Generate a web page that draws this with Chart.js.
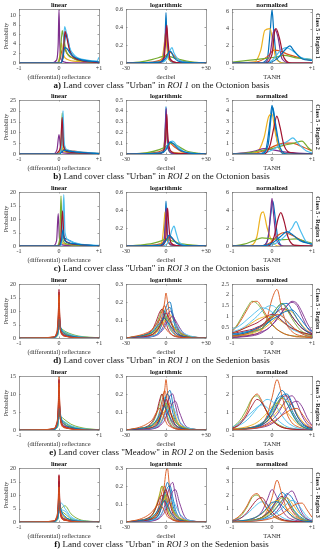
<!DOCTYPE html>
<html>
<head>
<meta charset="utf-8">
<script src="https://cdn.jsdelivr.net/npm/chart.js@4.4.1/dist/chart.umd.min.js"></script>
<style>
  body { margin: 0; width: 323px; height: 550px; background: #fff; position: relative; overflow: hidden; font-family: "Liberation Serif", serif; }
  canvas { position: absolute; }
  .cap { position: absolute; left: 0; width: 323px; text-align: center; font-size: 9px; line-height: 10px; color: #111; white-space: nowrap; }
  .side { position: absolute; writing-mode: vertical-rl; font-size: 6px; font-weight: bold; color: #222; white-space: nowrap; transform: translate(-50%, -50%); z-index: 2; }
</style>
</head>
<body>
<script>
// ---- Octonion basis rows: 8 curves each, [x, y] points ----
const aLin = [
  [[-1,0],[0.05,0],[0.1,1.5],[0.15,5],[0.18,6.3],[0.22,5],[0.3,2],[0.5,0.8],[0.8,0.3],[1,0.2]],
  [[-1,0],[-0.05,0],[0.03,1],[0.08,2.8],[0.13,3],[0.2,2],[0.35,1],[0.6,0.4],[1,0.1]],
  [[-1,0],[-0.05,0],[0.02,1.5],[0.06,4.2],[0.1,2],[0.2,0.8],[0.5,0.3],[1,0]],
  [[-1,0],[-0.2,0],[-0.06,0.6],[-0.02,4],[0,11.2],[0.02,4],[0.06,0.6],[0.2,0.1],[1,0]],
  [[-1,0],[-0.05,0],[0.03,1.5],[0.08,6.8],[0.11,5.5],[0.18,2.5],[0.35,1],[0.7,0.3],[1,0.1]],
  [[-1,0],[0.05,0],[0.1,2],[0.14,7.6],[0.18,6.5],[0.25,3.5],[0.4,1.5],[0.7,0.6],[0.95,0.4],[1,1.2]],
  [[-1,0],[0.05,0],[0.1,1.5],[0.15,6.6],[0.19,5.5],[0.27,2.5],[0.45,0.8],[1,0.1]],
  [[-1,0],[0.05,0],[0.1,1],[0.14,3.2],[0.2,3],[0.3,1.8],[0.5,0.8],[1,0.2]]
];
const aLog = [
  [[-30,0],[-6,0.005],[-2,0.05],[-0.6,0.3],[0,0.56],[0.6,0.3],[2,0.05],[6,0.005],[30,0]],
  [[-30,0],[-10,0.01],[-2,0.05],[1,0.1],[3,0.12],[6,0.08],[12,0.02],[30,0]],
  [[-30,0],[-8,0.005],[-3,0.05],[-1,0.25],[-0.3,0.34],[0.5,0.2],[2,0.04],[8,0.005],[30,0]],
  [[-30,0],[-6,0.005],[-2,0.05],[-0.5,0.3],[0.3,0.41],[1,0.25],[3,0.04],[8,0.005],[30,0]],
  [[-30,0],[-20,0.01],[-10,0.04],[-3,0.07],[0,0.08],[3,0.07],[10,0.04],[20,0.01],[30,0]],
  [[-30,0],[-3,0.01],[1,0.06],[3,0.14],[4.5,0.17],[6,0.11],[10,0.03],[18,0.005],[30,0]],
  [[-30,0],[-5,0.005],[-1.5,0.05],[0,0.3],[0.6,0.42],[1.3,0.28],[3,0.05],[8,0.005],[30,0]],
  [[-30,0],[-5,0.01],[0,0.06],[2,0.12],[3.5,0.13],[6,0.06],[12,0.01],[30,0]]
];
const aNorm = [
  [[-1,0],[-0.3,0],[-0.12,0.5],[-0.04,4],[0,6.2],[0.04,4],[0.12,0.5],[0.3,0],[1,0]],
  [[-1,0],[-0.4,0.1],[-0.1,0.8],[0.05,1.5],[0.2,1.4],[0.4,1],[0.7,0.6],[1,0.3]],
  [[-1,0],[-0.45,0.1],[-0.28,1.5],[-0.18,3.8],[-0.05,4],[0.02,2.5],[0.1,0.5],[0.3,0],[1,0]],
  [[-1,0],[-0.25,0],[-0.05,1],[0.03,3.5],[0.08,3.9],[0.15,3],[0.25,0.5],[0.45,0],[1,0]],
  [[-1,0.1],[-0.6,0.3],[-0.2,0.5],[0.1,0.7],[0.3,0.9],[0.6,0.6],[0.8,0.5],[1,0.4]],
  [[-1,0],[-0.3,0],[0,0.3],[0.2,1.4],[0.35,1.8],[0.5,1.5],[0.7,0.7],[1,0.4]],
  [[-1,0],[-0.2,0],[0,1],[0.06,3.5],[0.1,4],[0.18,3],[0.3,0.6],[0.5,0],[1,0]],
  [[-1,0],[-0.1,0],[0.15,0.6],[0.3,1.4],[0.45,2],[0.55,1.4],[0.75,0.5],[1,0.3]]
];
const bLin = [
  [[-1,0],[0,0],[0.06,3],[0.09,16],[0.12,5],[0.2,1.5],[0.5,0.8],[1,0.2]],
  [[-1,0],[-0.1,0],[0,0.5],[0.1,2],[0.3,1.5],[0.6,0.8],[1,0.3]],
  [[-1,0],[-0.05,0],[0.02,1],[0.06,5],[0.1,1.5],[0.3,0.5],[1,0]],
  [[-1,0],[-0.15,0],[-0.05,2],[0,9],[0.04,3],[0.1,0.5],[0.4,0.2],[1,0]],
  [[-1,0],[0,0],[0.05,3],[0.08,19],[0.11,4],[0.2,1],[0.5,0.5],[1,0.1]],
  [[-1,0],[0,0],[0.07,4],[0.1,20],[0.13,5],[0.2,2],[0.5,1],[1,0.3]],
  [[-1,0],[-0.1,0],[-0.02,1],[0.04,4],[0.08,17],[0.11,4],[0.2,1.2],[0.6,0.4],[1,0.1]],
  [[-1,0],[0,0],[0.08,1],[0.12,1.8],[0.3,1.2],[0.6,0.6],[1,0.2]]
];
const bLog = [
  [[-30,0],[-5,0.005],[-1.5,0.05],[-0.5,0.25],[0,0.44],[0.5,0.25],[1.5,0.05],[5,0.005],[30,0]],
  [[-30,0],[-10,0.01],[-2,0.04],[1,0.08],[3,0.1],[6,0.07],[12,0.02],[30,0]],
  [[-30,0],[-6,0.005],[-2,0.04],[-0.6,0.2],[0,0.28],[1,0.12],[3,0.02],[30,0]],
  [[-30,0],[-5,0.005],[-1.5,0.05],[-0.3,0.3],[0.2,0.42],[0.8,0.2],[2,0.04],[6,0.005],[30,0]],
  [[-30,0],[-15,0.01],[-5,0.04],[0,0.07],[4,0.1],[8,0.08],[15,0.03],[25,0.005],[30,0]],
  [[-30,0],[-8,0.005],[-1,0.04],[2,0.1],[5,0.12],[8,0.08],[14,0.02],[30,0]],
  [[-30,0],[-5,0.005],[-1,0.05],[0.2,0.25],[0.6,0.37],[1.2,0.2],[3,0.04],[8,0.005],[30,0]],
  [[-30,0],[-3,0.01],[0,0.04],[3,0.11],[5,0.1],[10,0.04],[20,0.005],[30,0]]
];
const bNorm = [
  [[-1,0],[-0.35,0],[-0.15,0.5],[-0.05,3],[0,4.5],[0.05,3.5],[0.15,0.8],[0.35,0],[1,0]],
  [[-1,0],[-0.5,0.05],[-0.2,0.3],[0.1,0.8],[0.3,1],[0.5,1],[0.8,0.6],[1,0.3]],
  [[-1,0],[-0.4,0.1],[-0.2,1.5],[-0.08,3.5],[0,3.7],[0.08,2],[0.2,0.4],[0.4,0],[1,0]],
  [[-1,0],[-0.7,0.1],[-0.4,0.3],[-0.2,0.5],[0,0.4],[0.3,0.2],[1,0]],
  [[-1,0],[-0.6,0.1],[-0.3,0.3],[0,0.5],[0.3,0.8],[0.55,1],[0.75,1.2],[0.9,0.6],[1,0.3]],
  [[-1,0],[-0.4,0],[-0.1,0.2],[0.2,0.8],[0.4,1.2],[0.52,1.5],[0.65,1],[0.85,0.3],[1,0.1]],
  [[-1,0],[-0.2,0],[-0.05,0.8],[0.05,2.5],[0.12,3.5],[0.2,2.5],[0.3,0.8],[0.5,0.1],[1,0]],
  [[-1,0],[-0.3,0],[-0.1,0.8],[-0.02,3.5],[0.02,4.3],[0.08,3],[0.2,0.6],[0.4,0],[1,0]]
];
const cLin = [
  [[-1,0],[0,0],[0.05,1.5],[0.1,3],[0.2,2.5],[0.4,1],[0.7,0.3],[1,0.1]],
  [[-1,0],[-0.05,0],[0.05,1.5],[0.1,4],[0.15,2],[0.3,0.8],[1,0.1]],
  [[-1,0],[-0.05,0],[0.02,1],[0.05,3],[0.09,1],[0.3,0.3],[1,0]],
  [[-1,0],[-0.15,0],[-0.06,2],[-0.02,12],[0.01,3],[0.06,0.5],[0.3,0.1],[1,0]],
  [[-1,0],[-0.05,0],[0.02,3],[0.05,18.5],[0.08,4],[0.15,1],[0.4,0.3],[1,0]],
  [[-1,0],[0.02,0],[0.08,3],[0.12,19],[0.15,5],[0.25,2],[0.5,0.8],[1,0.2]],
  [[-1,0],[-0.02,0],[0.04,2],[0.09,13],[0.12,4],[0.2,1.5],[0.5,0.5],[1,0.1]],
  [[-1,0],[0,0],[0.06,2],[0.1,6],[0.14,2],[0.3,1],[0.6,0.4],[1,0.1]]
];
const cLog = [
  [[-30,0],[-5,0.005],[-1.5,0.05],[-0.5,0.3],[0,0.5],[0.5,0.3],[1.5,0.05],[5,0.005],[30,0]],
  [[-30,0],[-10,0.01],[-2,0.04],[1,0.08],[3,0.1],[6,0.06],[12,0.01],[30,0]],
  [[-30,0],[-7,0.005],[-3,0.05],[-1.5,0.25],[-0.7,0.38],[0,0.25],[1.5,0.04],[6,0.005],[30,0]],
  [[-30,0],[-5,0.005],[-1.5,0.05],[-0.3,0.3],[0.2,0.42],[0.8,0.2],[2,0.04],[6,0.005],[30,0]],
  [[-30,0],[-20,0.01],[-10,0.03],[-3,0.06],[0,0.08],[4,0.06],[10,0.03],[20,0.01],[30,0]],
  [[-30,0],[-2,0.005],[2,0.05],[4.5,0.18],[6,0.22],[7.5,0.15],[10,0.04],[16,0.005],[30,0]],
  [[-30,0],[-4,0.005],[-0.5,0.05],[0.6,0.3],[1.2,0.42],[2,0.25],[3.5,0.04],[8,0.005],[30,0]],
  [[-30,0],[-4,0.01],[0,0.06],[2.5,0.12],[4,0.1],[8,0.03],[15,0.005],[30,0]]
];
const cNorm = [
  [[-1,0],[-0.3,0],[-0.12,0.5],[-0.03,3.5],[0.02,5],[0.07,3.5],[0.15,0.8],[0.3,0],[1,0]],
  [[-1,0],[-0.3,0],[0,0.5],[0.15,1.2],[0.3,1.5],[0.5,1.2],[0.75,0.6],[1,0.2]],
  [[-1,0],[-0.55,0.05],[-0.38,1],[-0.28,3.5],[-0.22,3.8],[-0.12,2],[0,0.5],[0.2,0],[1,0]],
  [[-1,0],[-0.25,0],[-0.1,0.8],[-0.03,4],[0,5.3],[0.04,3.5],[0.12,0.6],[0.3,0],[1,0]],
  [[-1,0],[-0.7,0.2],[-0.45,0.6],[-0.25,0.9],[0,0.8],[0.3,0.7],[0.6,0.8],[0.85,0.5],[1,0.3]],
  [[-1,0],[-0.2,0],[0.1,0.3],[0.35,1.2],[0.5,2],[0.6,2.7],[0.7,1.8],[0.85,0.5],[1,0.2]],
  [[-1,0],[-0.1,0],[0.05,1],[0.15,3],[0.22,3.7],[0.3,2.8],[0.4,1],[0.55,0.1],[1,0]],
  [[-1,0],[-0.3,0],[0,0.3],[0.2,1],[0.38,1.6],[0.5,1.3],[0.7,0.6],[1,0.2]]
];

// ---- Sedenion basis rows: 16 curves each on shared x grids ----
const xSedLin = [-1,-0.4,-0.15,-0.06,-0.02,0,0.02,0.06,0.15,0.3,0.5,0.75,1];
const xSedLog = [-30,-20,-14,-10,-7,-5,-3,-1,0,1,3,5,7,10,14,20,30];
const xSedNorm = [-1,-0.875,-0.75,-0.625,-0.5,-0.375,-0.25,-0.125,0,0.125,0.25,0.375,0.5,0.625,0.75,0.875,1];

const dLin = [
  [0,0,0.2,1,5,14,6,2,1,0.5,0.2,0.1,0],
  [0,0,0.3,1.5,6,17,7,2,0.8,0.4,0.2,0.1,0],
  [0,0,0.2,1,4,10,5,2.5,1.5,0.8,0.3,0.1,0],
  [0,0,0.2,1.2,5,12,5,2,1,0.5,0.2,0.1,0],
  [0,0,0.1,0.5,2,5,4,3.5,2.5,1.5,0.7,0.3,0.1],
  [0,0,0.1,0.6,2.5,6,4.5,3,2,1,0.4,0.1,0],
  [0,0,0.3,1.5,7,18,7,2,0.8,0.4,0.2,0.1,0],
  [0,0,0.2,1,4,9,6,3,1.5,0.8,0.3,0.1,0],
  [0,0.1,0.4,2,8,16,6,1.5,0.6,0.3,0.1,0,0],
  [0,0,0.2,1,3,8,4,2.5,1.5,0.6,0.2,0.1,0],
  [0,0,0.2,1,4,11,6,2.5,1,0.4,0.2,0,0],
  [0,0,0.1,0.5,2,6,4,3,2,1,0.5,0.2,0.1],
  [0,0,0.1,0.5,2,4,3.5,3,2.2,1.2,0.5,0.2,0],
  [0,0,0.2,1.2,5,13,5,2,0.8,0.4,0.2,0,0],
  [0,0,0.1,0.8,3,7,5,3,1.5,0.7,0.3,0.1,0],
  [0,0.1,0.3,1.5,6,15,6,2,0.8,0.3,0.1,0,0]
];
const dLog = [
  [0,0.005,0.01,0.02,0.04,0.06,0.1,0.15,0.17,0.19,0.2,0.14,0.08,0.03,0.01,0.003,0],
  [0,0.005,0.01,0.02,0.04,0.07,0.12,0.2,0.25,0.21,0.12,0.07,0.04,0.02,0.01,0.005,0],
  [0,0.005,0.01,0.015,0.03,0.05,0.07,0.1,0.11,0.12,0.13,0.11,0.08,0.04,0.015,0.005,0],
  [0,0.003,0.006,0.01,0.02,0.03,0.05,0.08,0.1,0.12,0.15,0.13,0.09,0.04,0.015,0.005,0],
  [0,0.01,0.02,0.04,0.08,0.12,0.16,0.14,0.12,0.09,0.05,0.03,0.015,0.008,0.004,0.002,0],
  [0,0.01,0.02,0.04,0.07,0.1,0.13,0.14,0.13,0.1,0.06,0.03,0.015,0.008,0.004,0.002,0],
  [0,0.01,0.025,0.05,0.1,0.14,0.16,0.12,0.09,0.06,0.03,0.015,0.008,0.004,0.002,0.001,0],
  [0,0.003,0.006,0.01,0.02,0.04,0.08,0.13,0.15,0.16,0.17,0.12,0.06,0.02,0.008,0.003,0],
  [0,0.008,0.015,0.03,0.06,0.1,0.15,0.18,0.16,0.13,0.07,0.04,0.02,0.01,0.005,0.002,0],
  [0,0.01,0.02,0.03,0.05,0.07,0.08,0.09,0.1,0.1,0.09,0.07,0.05,0.03,0.015,0.005,0],
  [0,0.002,0.004,0.008,0.015,0.025,0.04,0.06,0.08,0.09,0.11,0.12,0.1,0.06,0.02,0.006,0],
  [0,0.01,0.02,0.03,0.05,0.07,0.09,0.11,0.12,0.11,0.09,0.07,0.05,0.03,0.015,0.005,0],
  [0,0.003,0.006,0.01,0.02,0.03,0.045,0.06,0.07,0.075,0.085,0.09,0.08,0.05,0.025,0.008,0],
  [0,0.005,0.01,0.02,0.04,0.06,0.09,0.13,0.14,0.13,0.1,0.06,0.03,0.015,0.006,0.002,0],
  [0,0.01,0.02,0.035,0.06,0.08,0.1,0.11,0.1,0.09,0.07,0.05,0.03,0.015,0.006,0.002,0],
  [0,0.015,0.03,0.05,0.08,0.1,0.09,0.06,0.05,0.04,0.025,0.015,0.01,0.005,0.003,0.001,0]
];
const dNorm = [
  [0.1,0.15,0.2,0.25,0.35,0.45,0.6,0.8,1.1,1.4,1.6,1.4,1.0,0.7,0.45,0.3,0.2],
  [0.05,0.05,0.1,0.1,0.15,0.2,0.4,0.9,1.8,2.25,1.3,0.6,0.3,0.15,0.1,0.05,0.05],
  [0.05,0.08,0.1,0.15,0.2,0.3,0.4,0.55,0.75,0.95,1.15,1.3,1.2,0.9,0.6,0.35,0.2],
  [0.05,0.05,0.08,0.1,0.15,0.2,0.3,0.4,0.6,0.85,1.2,1.5,1.65,1.5,1.0,0.5,0.2],
  [0.35,0.6,1.0,1.4,1.7,1.6,1.3,0.9,0.6,0.4,0.25,0.15,0.1,0.08,0.05,0.05,0.05],
  [0.3,0.35,0.45,0.6,0.8,1.0,1.25,1.45,1.5,1.35,1.05,0.75,0.5,0.35,0.25,0.15,0.1],
  [0.2,0.25,0.3,0.35,0.4,0.5,0.6,0.8,1.0,1.2,1.35,1.3,1.0,0.7,0.45,0.3,0.2],
  [0.15,0.15,0.2,0.25,0.3,0.35,0.45,0.65,0.9,1.25,1.55,1.6,1.3,0.9,0.55,0.3,0.15],
  [0.3,0.55,0.9,1.3,1.65,1.7,1.4,1.0,0.65,0.4,0.25,0.15,0.1,0.05,0.05,0.03,0.02],
  [0.2,0.3,0.4,0.55,0.7,0.85,0.95,1.0,1.0,0.9,0.75,0.6,0.45,0.35,0.25,0.15,0.1],
  [0.02,0.03,0.05,0.07,0.1,0.15,0.25,0.4,0.6,0.9,1.2,1.5,1.7,1.6,1.2,0.7,0.3],
  [0.1,0.1,0.15,0.2,0.25,0.35,0.45,0.7,1.0,1.4,1.6,1.3,0.9,0.55,0.3,0.2,0.1],
  [0.4,0.5,0.65,0.85,1.05,1.25,1.4,1.35,1.2,1.0,0.8,0.6,0.4,0.3,0.2,0.1,0.05],
  [0.25,0.3,0.4,0.5,0.6,0.7,0.85,1.0,1.1,1.0,0.8,0.6,0.45,0.35,0.25,0.2,0.15],
  [0.2,0.2,0.25,0.3,0.35,0.45,0.55,0.7,0.85,1.0,1.15,1.25,1.3,1.1,0.8,0.5,0.3],
  [0.1,0.12,0.15,0.2,0.3,0.4,0.55,0.75,0.95,1.1,1.0,0.8,0.55,0.35,0.2,0.1,0.05]
];
const eLin = [
  [0,0,0.2,1,4,12,5,2,1,0.5,0.2,0.1,0],
  [0,0.1,0.4,2,6,15,6,1.5,0.6,0.3,0.1,0,0],
  [0,0,0.2,1,3,8,4,2.5,1.5,0.8,0.3,0.1,0],
  [0,0,0.2,1,4,10,5,2,1,0.5,0.2,0.1,0],
  [0,0,0.1,0.5,1.5,4,3.5,3.5,2.8,1.6,0.8,0.3,0.1],
  [0,0,0.1,0.6,2,5,4.5,3,2,1,0.4,0.1,0],
  [0,0,0.3,1.5,5,14,6,2,0.8,0.4,0.2,0.1,0],
  [0,0,0.2,1,3,8,6,3,1.5,0.8,0.3,0.1,0],
  [0,0.1,0.3,1.5,5,13,6,1.5,0.6,0.3,0.1,0,0],
  [0,0,0.2,1,3,7,4,2.5,1.5,0.6,0.2,0.1,0],
  [0,0,0.2,1,4,9,5,2.5,1,0.4,0.2,0,0],
  [0,0,0.1,0.5,2,5,4,3,2,1,0.5,0.2,0.1],
  [0,0,0.1,0.5,2,3.5,3.5,3,2.2,1.2,0.5,0.2,0],
  [0,0,0.2,1.2,5,11,5,2,0.8,0.4,0.2,0,0],
  [0,0,0.1,0.8,3,6,5,3,1.5,0.7,0.3,0.1,0],
  [0,0.1,0.3,1.5,5,12,6,2,0.8,0.3,0.1,0,0]
];
const eLog = [
  [0,0.003,0.006,0.012,0.025,0.045,0.09,0.15,0.18,0.2,0.22,0.15,0.07,0.025,0.008,0.003,0],
  [0,0.004,0.008,0.015,0.03,0.06,0.12,0.22,0.28,0.22,0.11,0.06,0.03,0.015,0.007,0.003,0],
  [0,0.003,0.006,0.01,0.02,0.035,0.06,0.1,0.12,0.13,0.15,0.13,0.08,0.03,0.01,0.004,0],
  [0,0.002,0.004,0.008,0.015,0.025,0.05,0.09,0.12,0.15,0.19,0.2,0.14,0.05,0.015,0.004,0],
  [0,0.008,0.02,0.04,0.09,0.14,0.2,0.16,0.12,0.08,0.04,0.02,0.01,0.005,0.002,0.001,0],
  [0,0.008,0.015,0.03,0.06,0.1,0.16,0.18,0.16,0.12,0.06,0.03,0.015,0.006,0.003,0.001,0],
  [0,0.01,0.02,0.05,0.1,0.16,0.2,0.14,0.1,0.06,0.03,0.015,0.007,0.003,0.001,0.001,0],
  [0,0.003,0.006,0.012,0.025,0.05,0.1,0.16,0.19,0.2,0.17,0.1,0.05,0.02,0.007,0.002,0],
  [0,0.006,0.012,0.025,0.05,0.09,0.16,0.22,0.2,0.15,0.07,0.035,0.017,0.008,0.004,0.001,0],
  [0,0.008,0.015,0.025,0.045,0.065,0.085,0.105,0.115,0.12,0.1,0.075,0.05,0.03,0.013,0.004,0],
  [0,0.002,0.003,0.006,0.012,0.02,0.035,0.055,0.075,0.09,0.12,0.15,0.16,0.1,0.03,0.006,0],
  [0,0.008,0.015,0.025,0.045,0.07,0.1,0.135,0.15,0.135,0.1,0.07,0.045,0.025,0.012,0.004,0],
  [0,0.003,0.006,0.01,0.02,0.03,0.05,0.08,0.095,0.11,0.125,0.13,0.1,0.05,0.02,0.006,0],
  [0,0.004,0.008,0.016,0.035,0.06,0.1,0.15,0.17,0.16,0.11,0.06,0.03,0.012,0.005,0.002,0],
  [0,0.008,0.016,0.03,0.055,0.08,0.11,0.13,0.12,0.1,0.07,0.045,0.025,0.012,0.005,0.002,0],
  [0,0.015,0.035,0.06,0.1,0.12,0.1,0.06,0.045,0.03,0.02,0.012,0.007,0.004,0.002,0.001,0]
];
const eNorm = [
  [0.05,0.05,0.08,0.1,0.15,0.25,0.4,0.7,1.2,1.8,2.2,1.8,1.1,0.6,0.3,0.15,0.08],
  [0.03,0.03,0.05,0.08,0.12,0.2,0.35,0.8,1.8,2.8,1.9,0.9,0.4,0.2,0.1,0.05,0.03],
  [0.03,0.05,0.08,0.1,0.15,0.2,0.3,0.45,0.7,1.0,1.35,1.6,1.4,0.9,0.5,0.25,0.1],
  [0.02,0.03,0.05,0.07,0.1,0.15,0.22,0.35,0.55,0.85,1.3,1.75,1.9,1.5,0.8,0.35,0.12],
  [0.15,0.35,0.7,1.2,1.75,1.9,1.5,1.0,0.6,0.35,0.2,0.1,0.06,0.04,0.03,0.02,0.01],
  [0.1,0.2,0.35,0.55,0.85,1.2,1.5,1.7,1.6,1.25,0.8,0.45,0.25,0.12,0.06,0.03,0.01],
  [0.05,0.06,0.08,0.1,0.15,0.2,0.3,0.5,0.8,1.3,1.8,1.9,1.4,0.8,0.4,0.2,0.08],
  [0.03,0.04,0.06,0.08,0.12,0.18,0.28,0.5,0.85,1.4,1.9,2.0,1.5,0.8,0.4,0.15,0.05],
  [0.1,0.25,0.55,1.0,1.7,2.0,1.6,1.0,0.55,0.3,0.15,0.08,0.05,0.03,0.02,0.01,0.01],
  [0.05,0.08,0.12,0.18,0.28,0.42,0.65,0.95,1.3,1.5,1.35,1.0,0.65,0.35,0.18,0.08,0.03],
  [0.02,0.02,0.03,0.05,0.07,0.1,0.15,0.22,0.35,0.55,0.85,1.2,1.5,1.6,1.3,0.7,0.25],
  [0.03,0.04,0.06,0.08,0.12,0.2,0.35,0.6,1.0,1.5,1.8,1.5,0.95,0.5,0.22,0.08,0.03],
  [0.15,0.3,0.5,0.75,1.0,1.25,1.4,1.25,0.95,0.6,0.35,0.18,0.1,0.05,0.03,0.02,0.01],
  [0.08,0.2,0.45,0.85,1.35,1.7,1.5,1.0,0.55,0.3,0.15,0.08,0.05,0.03,0.02,0.01,0.01],
  [0.02,0.03,0.05,0.08,0.12,0.2,0.35,0.65,1.1,1.7,1.9,1.5,0.9,0.45,0.2,0.08,0.03],
  [0.02,0.03,0.04,0.06,0.08,0.12,0.18,0.28,0.42,0.6,0.82,1.0,1.15,1.2,0.9,0.5,0.2]
];
const fLin = [
  [0,0,0.2,1,4,12,6,2.5,1.2,0.5,0.2,0.1,0],
  [0,0.1,0.4,2,7,17,7,1.5,0.6,0.3,0.1,0,0],
  [0,0,0.2,1,3,9,5,3,1.5,0.8,0.3,0.1,0],
  [0,0,0.2,1,4,11,5,2,1,0.5,0.2,0.1,0],
  [0,0,0.1,0.5,1.5,4,4,5,6,3,1,0.3,0.1],
  [0,0,0.1,0.5,2,5,6,7,5,2,0.6,0.2,0],
  [0,0,0.3,1.5,6,17.5,7,2,0.8,0.4,0.2,0.1,0],
  [0,0,0.2,1,3,9,7,4,2,0.8,0.3,0.1,0],
  [0,0.1,0.3,1.5,5,14,6,1.5,0.6,0.3,0.1,0,0],
  [0,0,0.2,1,3,8,5,3,1.5,0.6,0.2,0.1,0],
  [0,0,0.2,1,4,10,6,2.5,1,0.4,0.2,0,0],
  [0,0,0.1,0.5,2,5,4.5,4,3,1.2,0.5,0.2,0.1],
  [0,0,0.1,0.5,2,4,4,4.5,4,1.5,0.5,0.2,0],
  [0,0,0.2,1.2,5,15,6,2,0.8,0.4,0.2,0,0],
  [0,0,0.1,0.8,3,8,6,4,2,0.7,0.3,0.1,0],
  [0,0.1,0.3,1.5,6,13,6,2,0.8,0.3,0.1,0,0]
];
const fLog = [
  [0,0.003,0.006,0.012,0.025,0.045,0.09,0.15,0.17,0.19,0.2,0.14,0.07,0.025,0.008,0.003,0],
  [0,0.004,0.008,0.015,0.03,0.05,0.1,0.22,0.28,0.3,0.16,0.07,0.035,0.015,0.006,0.002,0],
  [0,0.01,0.02,0.045,0.1,0.15,0.2,0.15,0.11,0.07,0.035,0.018,0.009,0.004,0.002,0.001,0],
  [0,0.002,0.004,0.008,0.015,0.025,0.05,0.09,0.12,0.15,0.2,0.22,0.15,0.05,0.015,0.004,0],
  [0,0.008,0.02,0.04,0.09,0.14,0.2,0.16,0.12,0.08,0.04,0.02,0.01,0.005,0.002,0.001,0],
  [0,0.008,0.015,0.03,0.055,0.09,0.13,0.16,0.15,0.12,0.06,0.03,0.015,0.006,0.003,0.001,0],
  [0,0.01,0.02,0.045,0.09,0.13,0.15,0.11,0.08,0.05,0.025,0.012,0.006,0.003,0.001,0.001,0],
  [0,0.003,0.006,0.012,0.025,0.05,0.1,0.17,0.2,0.22,0.18,0.1,0.05,0.02,0.007,0.002,0],
  [0,0.006,0.012,0.025,0.05,0.1,0.17,0.2,0.17,0.12,0.06,0.03,0.015,0.007,0.003,0.001,0],
  [0,0.008,0.015,0.025,0.045,0.07,0.1,0.13,0.14,0.13,0.1,0.07,0.045,0.025,0.011,0.004,0],
  [0,0.002,0.003,0.006,0.012,0.02,0.035,0.055,0.075,0.09,0.13,0.17,0.18,0.11,0.03,0.006,0],
  [0,0.006,0.012,0.022,0.04,0.065,0.1,0.14,0.15,0.15,0.11,0.07,0.04,0.02,0.009,0.003,0],
  [0,0.003,0.006,0.01,0.02,0.03,0.05,0.075,0.09,0.1,0.115,0.12,0.095,0.05,0.02,0.006,0],
  [0,0.005,0.01,0.02,0.04,0.07,0.12,0.17,0.18,0.16,0.1,0.05,0.025,0.01,0.004,0.001,0],
  [0,0.008,0.016,0.03,0.055,0.08,0.1,0.12,0.11,0.09,0.06,0.04,0.022,0.01,0.004,0.002,0],
  [0,0.015,0.035,0.06,0.09,0.1,0.085,0.06,0.045,0.03,0.02,0.012,0.007,0.004,0.002,0.001,0]
];
const fNorm = [
  [0.03,0.04,0.06,0.08,0.12,0.2,0.35,0.65,1.1,1.7,2.2,1.8,1.1,0.6,0.3,0.12,0.05],
  [0.02,0.03,0.04,0.06,0.1,0.18,0.35,0.8,1.8,3.1,2.0,0.9,0.4,0.2,0.08,0.04,0.02],
  [0.03,0.04,0.06,0.08,0.12,0.18,0.28,0.45,0.75,1.15,1.6,1.8,1.4,0.85,0.45,0.2,0.08],
  [0.03,0.05,0.08,0.12,0.2,0.4,0.8,1.6,2.4,1.8,0.9,0.4,0.2,0.1,0.05,0.03,0.02],
  [0.1,0.25,0.55,1.1,1.8,2.0,1.6,1.0,0.55,0.3,0.15,0.08,0.05,0.03,0.02,0.01,0.01],
  [0.1,0.2,0.35,0.6,0.95,1.3,1.5,1.35,1.0,0.65,0.35,0.18,0.09,0.04,0.02,0.01,0.01],
  [0.03,0.04,0.06,0.08,0.12,0.2,0.35,0.6,1.0,1.6,1.9,1.5,0.85,0.4,0.18,0.08,0.03],
  [0.02,0.03,0.04,0.06,0.09,0.14,0.22,0.38,0.65,1.1,1.6,2.1,1.8,1.1,0.5,0.2,0.06],
  [0.1,0.3,0.65,1.2,1.9,2.1,1.6,0.95,0.5,0.25,0.12,0.06,0.04,0.02,0.01,0.01,0.01],
  [0.04,0.06,0.1,0.15,0.25,0.4,0.62,0.95,1.35,1.6,1.4,1.0,0.6,0.3,0.14,0.06,0.02],
  [0.02,0.02,0.03,0.05,0.07,0.1,0.16,0.26,0.45,0.8,1.35,2.0,2.3,1.6,0.7,0.25,0.08],
  [0.03,0.04,0.06,0.08,0.12,0.2,0.33,0.55,0.9,1.4,1.8,1.55,1.0,0.5,0.22,0.08,0.03],
  [0.02,0.03,0.04,0.06,0.08,0.12,0.18,0.28,0.45,0.7,1.0,1.35,1.6,1.4,0.9,0.4,0.15],
  [0.06,0.15,0.35,0.7,1.2,1.65,1.8,1.3,0.75,0.4,0.2,0.1,0.05,0.03,0.02,0.01,0.01],
  [0.05,0.07,0.1,0.15,0.25,0.4,0.65,1.05,1.45,1.5,1.2,0.8,0.45,0.22,0.1,0.04,0.02],
  [0.01,0.02,0.03,0.04,0.06,0.08,0.12,0.18,0.28,0.42,0.62,0.88,1.15,1.35,1.4,0.9,0.35]
];

// axis limits and tick steps per row: [linear, logarithmic, normalized]
const yMax = [[11.3,0.6,6.3],[25,0.5,5],[20,0.6,6],[20,0.3,2.5],[15,0.3,3],[20,0.3,4]];
const yStep = [[2,0.2,2],[5,0.1,1],[5,0.2,2],[5,0.1,0.5],[5,0.1,1],[5,0.1,1]];
const xRange = [1, 30, 1];

const panelTitles = ["linear", "logarithmic", "normalized"];
const xTitles = ["(differential) reflectance", "decibel", "TANH"];
const yTitle = "Probability";
const letters = ["a)", "b)", "c)", "d)", "e)", "f)"];
const classes = ["Urban", "Urban", "Urban", "Urban", "Meadow", "Urban"];
const rois = ["ROI 1", "ROI 2", "ROI 3", "ROI 1", "ROI 2", "ROI 3"];
const bases = ["Octonion", "Octonion", "Octonion", "Sedenion", "Sedenion", "Sedenion"];
const regions = ["Class 5 - Region 1", "Class 5 - Region 2", "Class 5 - Region 3",
                 "Class 5 - Region 1", "Class 5 - Region 2", "Class 5 - Region 3"];

const octo = [[aLin, aLog, aNorm], [bLin, bLog, bNorm], [cLin, cLog, cNorm]];
const sede = [[dLin, dLog, dNorm], [eLin, eLog, eNorm], [fLin, fLog, fNorm]];
const sedGrids = [xSedLin, xSedLog, xSedNorm];

const palette = ["#0072BD", "#D95319", "#EDB120", "#7E2F8E", "#77AC30", "#4DBEEE", "#A2142F"];
const rowTops = [9, 100, 192, 284, 376, 468];
const plotLefts = [19, 126, 232];
const yAxisW = [19, 22, 22];

Chart.defaults.font.family = "'Liberation Serif', 'Times New Roman', serif";
Chart.defaults.font.size = 6;
Chart.defaults.color = "#333";

const fmt = v => String(Number(v.toFixed(2)));

// box, inward ticks, bold panel title and the y label
const boxPlugin = {
  id: "box",
  afterDraw(chart, args, opts) {
    const { ctx, chartArea: a, scales } = chart;
    ctx.save();
    ctx.strokeStyle = "#777";
    ctx.lineWidth = 0.7;
    ctx.strokeRect(a.left + 0.5, a.top + 0.5, a.right - a.left, a.bottom - a.top);
    ctx.beginPath();
    scales.x.ticks.forEach(t => {
      const px = Math.round(scales.x.getPixelForValue(t.value)) + 0.5;
      ctx.moveTo(px, a.bottom); ctx.lineTo(px, a.bottom - 1.5);
      ctx.moveTo(px, a.top); ctx.lineTo(px, a.top + 1.5);
    });
    scales.y.ticks.forEach(t => {
      const py = Math.round(scales.y.getPixelForValue(t.value)) + 0.5;
      ctx.moveTo(a.left, py); ctx.lineTo(a.left + 1.5, py);
      ctx.moveTo(a.right, py); ctx.lineTo(a.right - 1.5, py);
    });
    ctx.stroke();
    ctx.fillStyle = "#111";
    ctx.font = "bold 6.5px 'Liberation Serif', serif";
    ctx.textAlign = "center";
    ctx.textBaseline = "bottom";
    ctx.fillText(opts.title, (a.left + a.right) / 2, a.top - 0.5);
    if (opts.ylabel) {
      ctx.fillStyle = "#333";
      ctx.font = "6px 'Liberation Serif', serif";
      ctx.textBaseline = "middle";
      ctx.translate(a.left - 13, (a.top + a.bottom) / 2);
      ctx.rotate(-Math.PI / 2);
      ctx.fillText(opts.ylabel, 0, 0);
    }
    ctx.restore();
  }
};

function makePanel(row, col, datasets) {
  const cv = document.createElement("canvas");
  const yw = yAxisW[col];
  cv.width = yw + 88; cv.height = 83;
  cv.style.left = (plotLefts[col] - yw) + "px";
  cv.style.top = (rowTops[row] - 9) + "px";
  document.body.appendChild(cv);
  const xr = xRange[col], ym = yMax[row][col], ys = yStep[row][col];
  new Chart(cv, {
    type: "line",
    data: { datasets },
    options: {
      responsive: false,
      animation: false,
      devicePixelRatio: 1,
      layout: { padding: { top: 9, right: 8, left: 0, bottom: 0 } },
      plugins: {
        legend: { display: false }, tooltip: { enabled: false },
        box: { title: panelTitles[col], ylabel: col === 0 ? yTitle : "" }
      },
      elements: { point: { radius: 0 }, line: { borderWidth: row < 3 ? 1.2 : 0.9, cubicInterpolationMode: "monotone" } },
      scales: {
        x: {
          type: "linear", min: -xr, max: xr,
          grid: { display: false, drawTicks: false, tickLength: 0 }, border: { display: false },
          afterBuildTicks: s => { s.ticks = [{ value: -xr }, { value: 0 }, { value: xr }]; },
          afterFit: s => { s.height = 20; },
          ticks: { autoSkip: false, maxRotation: 0, padding: 2, font: { size: 6 },
                   callback: v => v > 0 ? "+" + v : String(v) },
          title: { display: true, text: xTitles[col], font: { size: 6.5 }, padding: { top: 0, bottom: 2 } }
        },
        y: {
          type: "linear", min: 0, max: ym,
          grid: { display: false, drawTicks: false, tickLength: 0 }, border: { display: false },
          afterBuildTicks: s => {
            const t = [];
            for (let v = 0; v <= ym + 1e-9; v += ys) t.push({ value: Number(v.toFixed(3)) });
            s.ticks = t;
          },
          afterFit: s => { s.width = yw; },
          ticks: { autoSkip: false, padding: 3, font: { size: 6 }, callback: v => fmt(v) }
        }
      }
    },
    plugins: [boxPlugin]
  });
}

// Octonion rows
octo.forEach((panels, r) => {
  panels.forEach((curves, c) => {
    const ds = curves.map((pts, i) => ({
      data: pts.map(p => ({ x: p[0], y: p[1] })),
      borderColor: palette[i % 7],
      fill: false,
      order: -i
    }));
    makePanel(r, c, ds);
  });
});

// Sedenion rows
sede.forEach((panels, r) => {
  panels.forEach((curves, c) => {
    const xs = sedGrids[c];
    const ds = curves.map((ys, i) => ({
      data: ys.map((y, k) => ({ x: xs[k], y })),
      borderColor: palette[i % 7],
      fill: false,
      order: -i
    }));
    makePanel(r + 3, c, ds);
  });
});

// captions and side labels
rowTops.forEach((top, r) => {
  const cap = document.createElement("div");
  cap.className = "cap";
  cap.style.top = (top + 71) + "px";
  cap.innerHTML = "<b>" + letters[r] + "</b> Land cover class \"" + classes[r] + "\" in <i>" + rois[r] +
                  "</i> on the " + bases[r] + " basis";
  document.body.appendChild(cap);

  const side = document.createElement("div");
  side.className = "side";
  side.style.left = "318px";
  side.style.top = (top + 27) + "px";
  side.textContent = regions[r];
  document.body.appendChild(side);
});
</script>
</body>
</html>
